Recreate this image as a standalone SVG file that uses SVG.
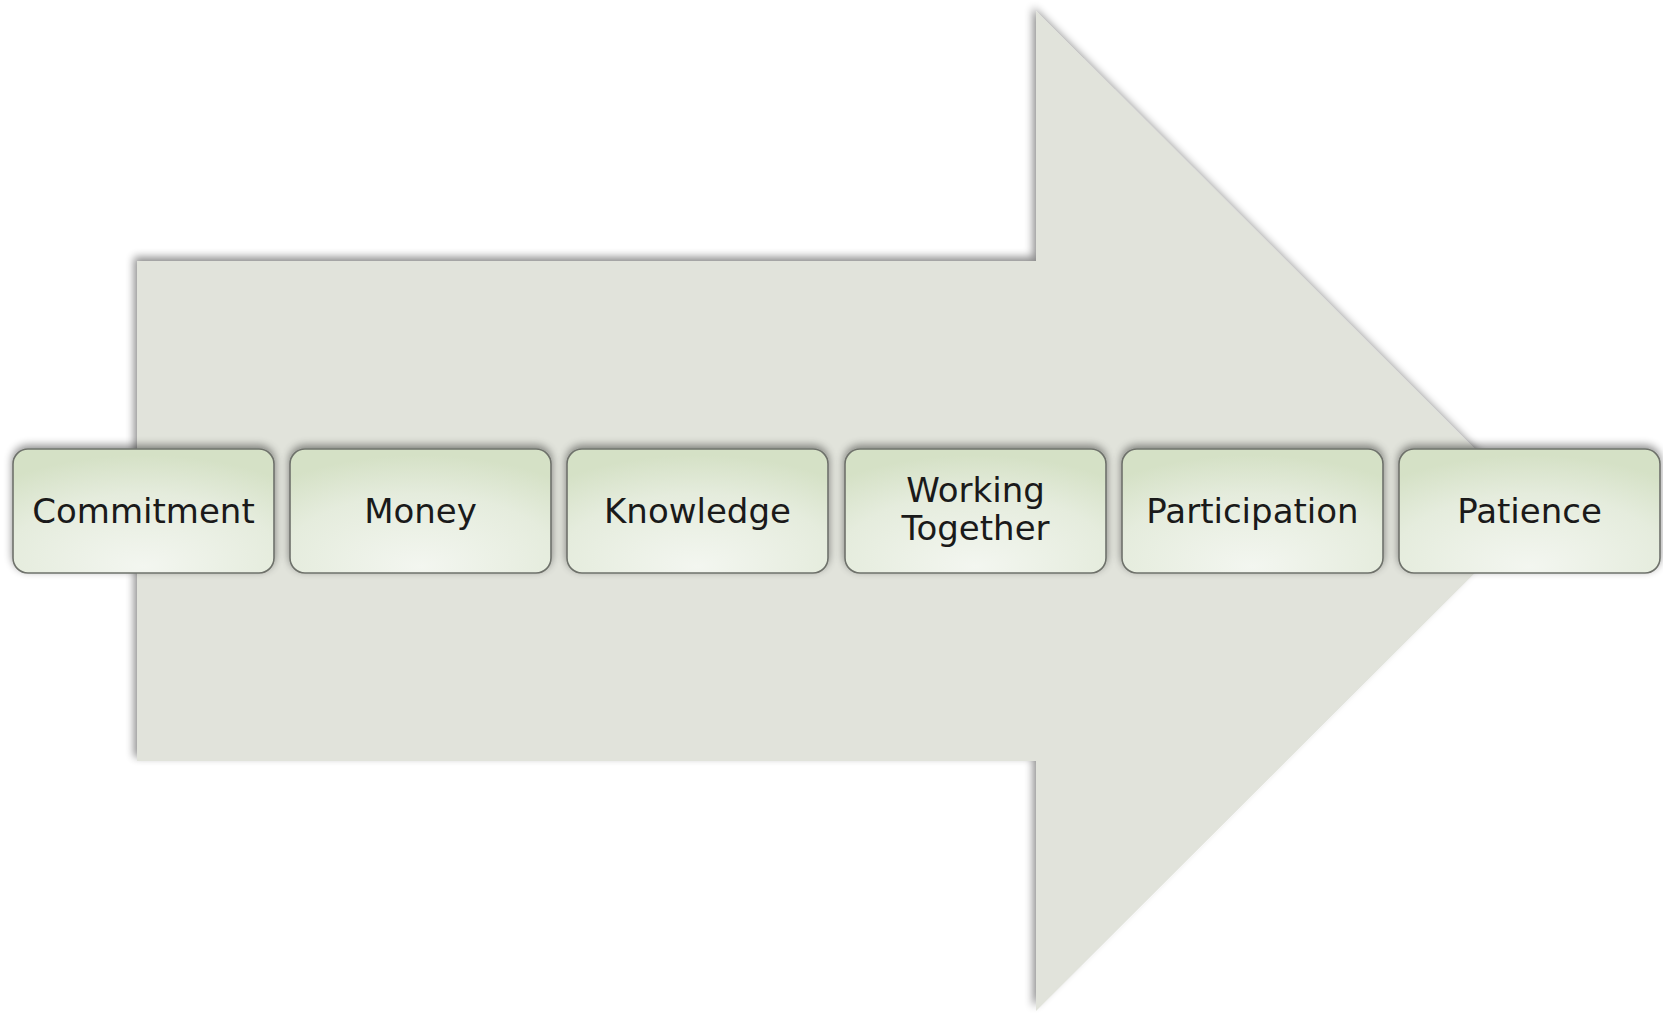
<svg xmlns="http://www.w3.org/2000/svg" width="1663" height="1013" viewBox="0 0 1663 1013">
<defs>
<filter id="shArrow" x="-5%" y="-5%" width="110%" height="110%">
<feGaussianBlur in="SourceAlpha" stdDeviation="4"/>
<feOffset dx="-3" dy="-4" result="b"/>
<feComponentTransfer><feFuncA type="linear" slope="0.45"/></feComponentTransfer>
<feMerge><feMergeNode/><feMergeNode in="SourceGraphic"/></feMerge>
</filter>
<filter id="shBox" x="-10%" y="-20%" width="120%" height="140%">
<feGaussianBlur in="SourceAlpha" stdDeviation="4"/>
<feOffset dx="0" dy="-3" result="b"/>
<feComponentTransfer><feFuncA type="linear" slope="0.45"/></feComponentTransfer>
<feMerge><feMergeNode/><feMergeNode in="SourceGraphic"/></feMerge>
</filter>
<radialGradient id="gBox" cx="0.5" cy="0.85" r="0.8" fx="0.5" fy="0.95">
<stop offset="0" stop-color="#F3F6F0"/>
<stop offset="0.65" stop-color="#E5ECDD"/>
<stop offset="1" stop-color="#D5E1C6"/>
</radialGradient>
<style>
.box{fill:url(#gBox);stroke:#6E716B;stroke-width:1.6;filter:url(#shBox)}
.lbl{font-family:"DejaVu Sans","Liberation Sans",sans-serif;font-size:34px;fill:#1a1a1a;text-anchor:middle}
</style>
</defs>
<g id="arrow">
<path d="M137,261 L1036,261 L1036,11 L1537,511 L1036,1011 L1036,761 L137,761 Z" fill="#E1E3DB" filter="url(#shArrow)"/>
</g>
<g id="connectors"/>
<g id="n1"><rect class="box" x="13" y="449" width="261" height="124" rx="15"/><text class="lbl" x="143.5" y="523">Commitment</text></g>
<g id="n2"><rect class="box" x="290" y="449" width="261" height="124" rx="15"/><text class="lbl" x="420.5" y="523">Money</text></g>
<g id="n3"><rect class="box" x="567" y="449" width="261" height="124" rx="15"/><text class="lbl" x="697.5" y="523">Knowledge</text></g>
<g id="n4"><rect class="box" x="845" y="449" width="261" height="124" rx="15"/><text class="lbl" x="975.5" y="502">Working</text><text class="lbl" x="975.5" y="540">Together</text></g>
<g id="n5"><rect class="box" x="1122" y="449" width="261" height="124" rx="15"/><text class="lbl" x="1252.5" y="523">Participation</text></g>
<g id="n6"><rect class="box" x="1399" y="449" width="261" height="124" rx="15"/><text class="lbl" x="1529.5" y="523">Patience</text></g>
</svg>
